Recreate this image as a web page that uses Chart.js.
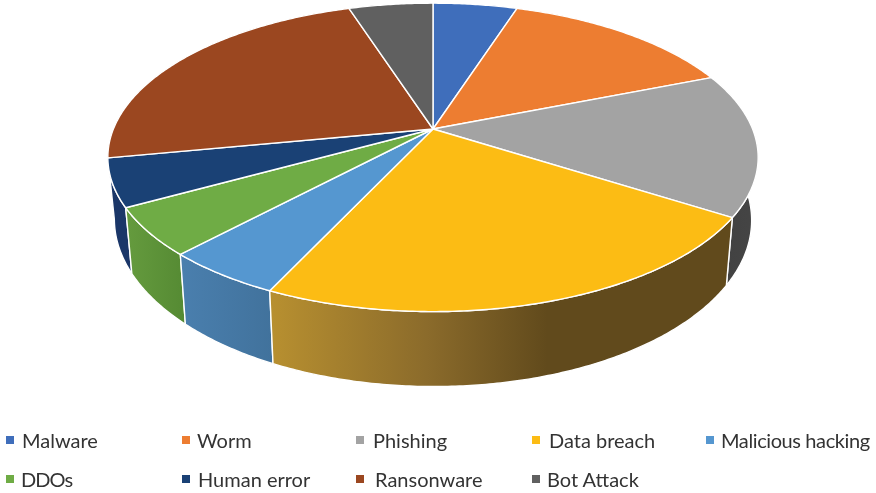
<!DOCTYPE html>
<html>
<head>
<meta charset="utf-8">
<title>Attack types</title>
<script src="https://cdn.jsdelivr.net/npm/chart.js@4"></script>
<style>
    html, body { margin: 0; padding: 0; background: #fff; }
    #wrap { position: relative; width: 876px; height: 493px; overflow: hidden; }
    #pie { position: absolute; left: 0; top: 0; }
    .legend-item {
        position: absolute;
        font-family: Lato, sans-serif;
        font-size: 20px;
        line-height: 24px;
        color: #333;
        white-space: nowrap;
    }
    .legend-item i {
        position: absolute;
        left: 0;
        top: 8px;
        width: 8px;
        height: 8px;
    }
</style>
</head>
<body>
<div id="wrap">
    <canvas id="pie" width="876" height="493"></canvas>
    <div id="legend"></div>
</div>
<script>
const categories = ['Malware', 'Worm', 'Phishing', 'Data breach', 'Malicious hacking', 'DDOs', 'Human error', 'Ransonware', 'Bot Attack'];
const shares = [5, 14, 15, 23, 5, 5, 5, 23, 5];

const topColors = ['#3f6ebb', '#ed7d31', '#a3a3a3', '#fcbc14', '#5597d0', '#6fac45', '#1a4175', '#9b4720', '#606060'];
// side wall shading, left to right
const wallStops = [
    [[0, '#2a4a80'], [1, '#2a4a80']],
    [[0, '#a05420'], [1, '#a05420']],
    [[0, '#404040'], [1, '#454545']],
    [[0, '#b89030'], [0.34, '#8b6b2b'], [0.6, '#614a1c'], [1, '#614a1c']],
    [[0, '#4a7fae'], [1, '#41729c']],
    [[0, '#659b3e'], [1, '#558a33']],
    [[0, '#1a3668'], [1, '#1a3668']],
    [[0, '#6a3010'], [1, '#6a3010']],
    [[0, '#404040'], [1, '#404040']]
];

// legend layout: columns wrap after five items
const legendCols = [6, 182, 356, 532, 706];
const legendRows = [428, 467];
const legendTextGap = [16, 15, 17, 17, 15, 15, 16, 19, 15];
const legendTracking = [0, 0, 0, 0, -0.4, -0.9, 0, 0, 0];

// top disc seen in perspective
const centerX = 433, centerY = 129;
const spreadX = 319.6, spreadY = 149, tilt = 0.184;
// bottom disc relative to the top one, leaning down slightly toward the right
const drop = 60, bottomScaleX = 0.98, bottomScaleY = 1.082, bottomLean = 0.002;

function projectTop(angle) {
    const x = Math.cos(angle), y = Math.sin(angle);
    const w = 1 - tilt * y;
    return { x: centerX + spreadX * x / w, y: centerY + spreadY * y / w };
}

function projectBottom(angle) {
    const p = projectTop(angle);
    return {
        x: centerX + (p.x - centerX) * bottomScaleX,
        y: centerY + drop + (p.y - centerY) * bottomScaleY + (p.x - centerX) * bottomLean
    };
}

function arcPoints(start, end, project) {
    const steps = Math.max(2, Math.ceil((end - start) / 0.01));
    const pts = [];
    for (let i = 0; i <= steps; i++) {
        pts.push(project(start + (end - start) * i / steps));
    }
    return pts;
}

function tracePath(ctx, pts) {
    ctx.beginPath();
    pts.forEach((p, i) => {
        if (i === 0) ctx.moveTo(p.x, p.y);
        else ctx.lineTo(p.x, p.y);
    });
    ctx.closePath();
}

// replaces the flat arcs with a tilted, extruded pie using the angles the controller computed
const pie3d = {
    id: 'pie3d',
    beforeDatasetsDraw(chart) {
        const ctx = chart.ctx;
        const arcs = chart.getDatasetMeta(0).data;
        ctx.save();
        ctx.lineJoin = 'round';
        ctx.strokeStyle = '#fff';
        ctx.lineWidth = 1.4;

        const order = arcs.map((_, i) => i).sort((a, b) => {
            const mid = arc => (arcs[arc].startAngle + arcs[arc].endAngle) / 2;
            return Math.sin(mid(a)) - Math.sin(mid(b));
        });

        order.forEach(i => {
            const { startAngle, endAngle } = arcs[i];
            const upper = arcPoints(startAngle, endAngle, projectTop);
            const lower = arcPoints(startAngle, endAngle, projectBottom).reverse();
            const pts = upper.concat(lower);
            const xs = pts.map(p => p.x);
            const grad = ctx.createLinearGradient(Math.min(...xs), 0, Math.max(...xs), 0);
            wallStops[i].forEach(s => grad.addColorStop(s[0], s[1]));
            tracePath(ctx, pts);
            ctx.fillStyle = grad;
            ctx.fill();
            ctx.stroke();
        });

        arcs.forEach((arc, i) => {
            const pts = [{ x: centerX, y: centerY }].concat(arcPoints(arc.startAngle, arc.endAngle, projectTop));
            tracePath(ctx, pts);
            ctx.fillStyle = topColors[i];
            ctx.fill();
            ctx.stroke();
        });
        ctx.restore();
        return false;
    }
};

new Chart(document.getElementById('pie'), {
    type: 'pie',
    data: {
        labels: categories,
        datasets: [{ data: shares, backgroundColor: topColors }]
    },
    options: {
        responsive: false,
        animation: false,
        plugins: {
            legend: { display: false },
            tooltip: { enabled: false }
        }
    },
    plugins: [pie3d]
});

const legendEl = document.getElementById('legend');
categories.forEach((name, i) => {
    const col = i % legendCols.length;
    const row = Math.floor(i / legendCols.length);
    const item = document.createElement('div');
    item.className = 'legend-item';
    item.style.left = legendCols[col] + 'px';
    item.style.top = legendRows[row] + 'px';
    item.style.paddingLeft = legendTextGap[i] + 'px';
    item.style.letterSpacing = legendTracking[i] + 'px';
    item.textContent = name;
    const mark = document.createElement('i');
    mark.style.background = topColors[i];
    item.appendChild(mark);
    legendEl.appendChild(item);
});
</script>
</body>
</html>
